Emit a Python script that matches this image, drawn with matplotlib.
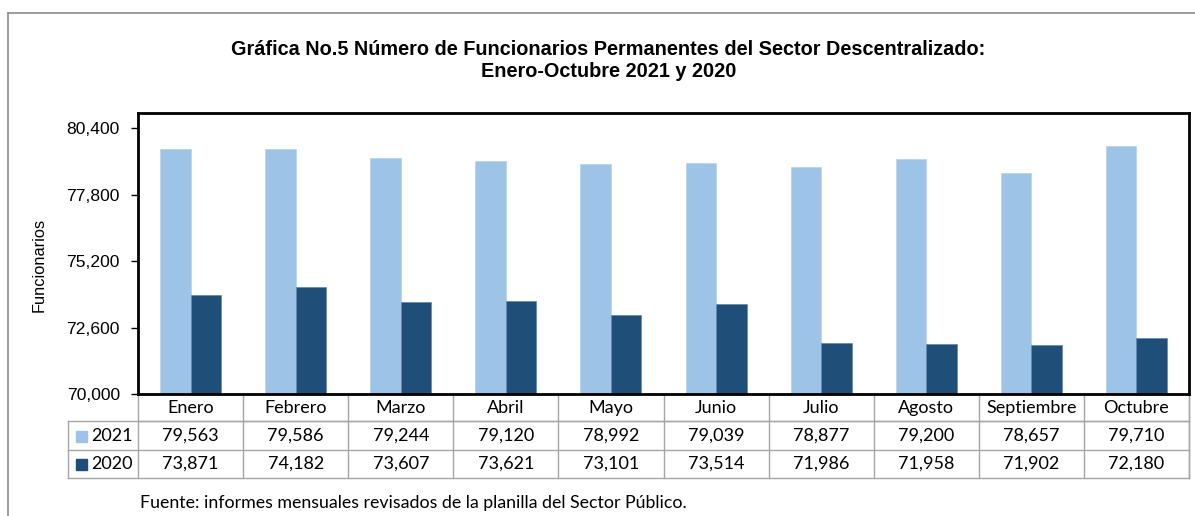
import matplotlib
matplotlib.use('Agg')
from matplotlib import pyplot as plt
from matplotlib import transforms
import numpy as np

# data
months = ['Enero', 'Febrero', 'Marzo', 'Abril', 'Mayo', 'Junio', 'Julio',
          'Agosto', 'Septiembre', 'Octubre']
vals_2021 = [79563, 79586, 79244, 79120, 78992, 79039, 78877, 79200, 78657, 79710]
vals_2020 = [73871, 74182, 73607, 73621, 73101, 73514, 71986, 71958, 71902, 72180]
series_names = ['2021', '2020']
yticks = [70000, 72600, 75200, 77800, 80400]

C21 = '#9DC3E6'
C20 = '#1F4E79'
GRID = '#A6A6A6'
W, H = 1195, 516

fig = plt.figure(figsize=(W / 100, H / 100), dpi=100)

# overlay in pixel coords for frame, table, footer
ov = fig.add_axes([0, 0, 1, 1])
ov.set_xlim(0, W)
ov.set_ylim(H, 0)
ov.axis('off')

# outer frame (top + left visible)
ov.plot([8, W], [13, 13], color='#8C8C8C', lw=1.2)
ov.plot([8, 8], [13, H], color='#8C8C8C', lw=1.2)

# main axes
L, R, T, B = 138, 1189, 113, 394
ax = fig.add_axes([L / W, 1 - B / H, (R - L) / W, (B - T) / H])
x = np.arange(len(months))
bw = 0.29
ax.bar(x - bw / 2, vals_2021, width=bw, color=C21, edgecolor='#B4D2EE', linewidth=0.5, zorder=2)
ax.bar(x + bw / 2, vals_2020, width=bw, color=C20, edgecolor='#5F86AE', linewidth=0.5, zorder=2)
ax.set_xlim(-0.5, len(months) - 0.5)
ax.set_ylim(70000, 80990)
ax.set_yticks(yticks)
ax.set_yticklabels([f'{v:,}' for v in yticks], fontsize=12.6, family='Liberation Sans')
ax.set_xticks([])
ax.tick_params(axis='y', direction='out', length=5, width=1, pad=8)
for s in ax.spines.values():
    s.set_linewidth(2)
    s.set_color('black')

fig.text(39 / W, 1 - 265 / H, 'Funcionarios', rotation=90, ha='center', va='center',
         fontsize=11.8, family='Liberation Sans')

fig.text(608.5 / W, 1 - 60.5 / H,
         'Gráfica No.5 Número de Funcionarios Permanentes del Sector Descentralizado:\nEnero-Octubre 2021 y 2020',
         ha='center', va='center', fontsize=14.3, fontweight='bold', family='Liberation Sans',
         linespacing=1.25)

# data table below axes
tr = transforms.blended_transform_factory(ax.transData, ov.transData)
rows_y = [394, 421, 450, 478]
x_right = len(months) - 0.5
tfont = dict(family='Lato', fontsize=13, color='black')
# horizontal lines
ov.plot([-0.5, x_right], [421, 421], color=GRID, lw=1, transform=tr)
for yy in rows_y[1:]:
    ov.plot([68, R], [yy, yy], color=GRID, lw=1)
# vertical lines
for b in np.arange(-0.5, len(months)):
    ov.plot([b, b], [394, 478], color=GRID, lw=1, transform=tr)
ov.plot([68, 68], [421, 478], color=GRID, lw=1)
ov.plot([R, R], [394, 478], color=GRID, lw=1)

for i, m in enumerate(months):
    ov.text(i, 408, m, ha='center', va='center', transform=tr, **tfont)
    ov.text(i, 436, f'{vals_2021[i]:,}', ha='center', va='center', transform=tr, **tfont)
    ov.text(i, 464, f'{vals_2020[i]:,}', ha='center', va='center', transform=tr, **tfont)

for name, col, yc in zip(series_names, [C21, C20], [436, 464]):
    ov.add_patch(plt.Rectangle((76, yc - 5.5), 11, 11, color=col))
    ov.text(91, yc, name, ha='left', va='center', **tfont)

ov.text(140, 503, 'Fuente: informes mensuales revisados de la planilla del Sector Público.',
        ha='left', va='center', family='Lato', fontsize=12.8)

fig.savefig('out.png', dpi=100)
